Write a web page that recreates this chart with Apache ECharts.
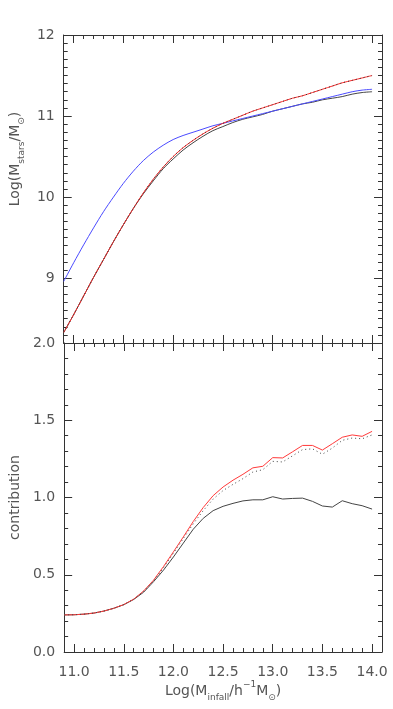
<!DOCTYPE html>
<html>
<head>
<meta charset="utf-8">
<script src="https://cdn.jsdelivr.net/npm/echarts@6/dist/echarts.min.js"></script>
<style>
  html, body { margin: 0; padding: 0; background: #fff; }
  #chart { width: 393px; height: 709px; }
</style>
</head>
<body>
<div id="chart"></div>
<script>
// x values: Log(M_infall / h^-1 M_sun), 0.1 dex steps
var xs = [10.9, 11.0, 11.1, 11.2, 11.3, 11.4, 11.5, 11.6, 11.7, 11.8, 11.9,
  12.0, 12.1, 12.2, 12.3, 12.4, 12.5, 12.6, 12.7, 12.8, 12.9,
  13.0, 13.1, 13.2, 13.3, 13.4, 13.5, 13.6, 13.7, 13.8, 13.9, 14.0];

// top panel: Log(M_stars / M_sun)
var topRed = [8.33, 8.55, 8.78, 9.01, 9.23, 9.45, 9.66, 9.86, 10.05, 10.22, 10.37,
  10.50, 10.61, 10.70, 10.78, 10.85, 10.91, 10.96, 11.01, 11.06, 11.10,
  11.14, 11.18, 11.22, 11.25, 11.29, 11.33, 11.37, 11.41, 11.44, 11.47, 11.50];
var topDotted = topRed.slice();
var topBlack = [8.33, 8.55, 8.78, 9.01, 9.23, 9.45, 9.66, 9.86, 10.04, 10.20, 10.35,
  10.47, 10.58, 10.67, 10.75, 10.82, 10.87, 10.92, 10.96, 10.99, 11.02,
  11.06, 11.09, 11.12, 11.15, 11.17, 11.20, 11.22, 11.24, 11.27, 11.29, 11.30];
var topBlue = [8.96, 9.19, 9.41, 9.62, 9.82, 10.00, 10.17, 10.32, 10.45, 10.555, 10.64,
  10.71, 10.76, 10.80, 10.84, 10.88, 10.91, 10.94, 10.97, 11.00, 11.03,
  11.06, 11.09, 11.12, 11.15, 11.18, 11.21, 11.24, 11.27, 11.30, 11.32, 11.33];

// bottom panel: contribution
var botRed = [0.240, 0.241, 0.245, 0.252, 0.265, 0.283, 0.307, 0.342, 0.395, 0.465, 0.553,
  0.648, 0.745, 0.845, 0.935, 1.012, 1.068, 1.112, 1.150, 1.192, 1.202,
  1.258, 1.256, 1.296, 1.337, 1.337, 1.307, 1.348, 1.390, 1.405, 1.396, 1.428];
var botDotted = [0.240, 0.241, 0.245, 0.252, 0.265, 0.283, 0.307, 0.342, 0.393, 0.460, 0.545,
  0.640, 0.735, 0.830, 0.915, 0.990, 1.045, 1.085, 1.122, 1.165, 1.180,
  1.234, 1.230, 1.270, 1.310, 1.315, 1.280, 1.320, 1.370, 1.385, 1.380, 1.405];
var botBlack = [0.240, 0.241, 0.245, 0.252, 0.265, 0.283, 0.306, 0.340, 0.387, 0.455, 0.530,
  0.615, 0.705, 0.795, 0.865, 0.915, 0.943, 0.962, 0.978, 0.985, 0.985,
  1.005, 0.990, 0.994, 0.996, 0.975, 0.945, 0.938, 0.979, 0.960, 0.947, 0.925];

// tick labels
var xMajor = [11.0, 11.5, 12.0, 12.5, 13.0, 13.5, 14.0];
var yTopMajor = [9, 10, 11, 12];
var yBotMajor = [0.0, 0.5, 1.0, 1.5, 2.0];

function steps(a, b) {
  var out = [];
  for (var i = a; i <= b; i++) out.push(Math.round(i) / 10);
  return out;
}
var xMinor = steps(109, 141);
var yTopMinor = steps(82, 120);
var yBotMinor = steps(0, 20);

function pairs(ys) {
  return xs.map(function (x, i) { return [x, ys[i]]; });
}

var txt = { color: '#555', fontFamily: 'DejaVu Sans', fontSize: 14 };
var rich = {
  a: { fontSize: 14, fontFamily: 'DejaVu Sans', color: '#555', lineHeight: 22, verticalAlign: 'middle' },
  s: { fontSize: 9, fontFamily: 'DejaVu Sans', color: '#555', lineHeight: 9, verticalAlign: 'bottom' },
  p: { fontSize: 9, fontFamily: 'DejaVu Sans', color: '#555', lineHeight: 9, verticalAlign: 'top' }
};

// one side of a box = a major axis (line, long ticks, labels) + a minor axis (short ticks)
function side(gridIndex, position, min, max, major, minor, fmt, extra, margin) {
  var base = {
    type: 'value', gridIndex: gridIndex, position: position, min: min, max: max,
    splitLine: { show: false }
  };
  var maj = Object.assign({}, base, {
    axisLine: { show: true, onZero: false, lineStyle: { color: '#333', width: 1 } },
    axisTick: { show: true, inside: true, length: 8, customValues: major, lineStyle: { color: '#333' } },
    axisLabel: fmt ? Object.assign({ show: true, customValues: major, formatter: fmt, margin: margin || 9 }, txt) : { show: false }
  }, extra || {});
  var mnr = Object.assign({}, base, {
    axisLine: { show: false, onZero: false },
    axisTick: { show: true, inside: true, length: 4, customValues: minor, lineStyle: { color: '#333' } },
    axisLabel: { show: false }
  });
  return [maj, mnr];
}

var fmt1 = function (v) { return v.toFixed(1); };
var fmt0 = function (v) { return v.toFixed(0); };

var xAxes = [].concat(
  side(0, 'bottom', 10.9, 14.1, xMajor, xMinor, null),
  side(0, 'top', 10.9, 14.1, xMajor, xMinor, null),
  side(1, 'bottom', 10.9, 14.1, xMajor, xMinor, fmt1, {
    name: '{a|Log(M}{s|infall}{a|/h}{p|−1}{a|M}{s|⊙}{a|)}',
    nameLocation: 'middle', nameGap: 24,
    nameTextStyle: { rich: rich }
  }, 13),
  side(1, 'top', 10.9, 14.1, xMajor, xMinor, null)
);
var yAxes = [].concat(
  side(0, 'left', 8.2, 12, yTopMajor, yTopMinor, fmt0, {
    name: '{a|Log(M}{s|stars}{a|/M}{s|⊙}{a|)}',
    nameLocation: 'middle', nameGap: 30,
    nameTextStyle: { rich: rich, padding: [0, 0, 0, 60] }
  }, 9),
  side(0, 'right', 8.2, 12, yTopMajor, yTopMinor, null),
  side(1, 'left', 0, 2, yBotMajor, yBotMinor, fmt1, {
    name: 'contribution',
    nameLocation: 'middle', nameGap: 37,
    nameTextStyle: txt
  }, 9),
  side(1, 'right', 0, 2, yBotMajor, yBotMinor, null)
);

function line(g, ys, color, type, smooth) {
  return {
    type: 'line', xAxisIndex: g * 4, yAxisIndex: g * 4, data: pairs(ys),
    showSymbol: false, symbol: 'none', silent: true,
    smooth: smooth ? 0.3 : false,
    lineStyle: { color: color, width: 1, type: type || 'solid' }
  };
}

var myChart = echarts.init(document.getElementById('chart'));
var option = {
  animation: false,
  backgroundColor: '#fff',
  grid: [
    { left: 55, right: 11, top: 35, height: 308 },
    { left: 55, right: 11, top: 343, height: 309 }
  ],
  xAxis: xAxes,
  yAxis: yAxes,
  series: [
    line(0, topBlack, '#444', null, true),
    line(0, topBlue, '#4a4aff', null, true),
    line(0, topRed, '#ff2a2a', null, true),
    line(0, topDotted, '#333', [1, 3], true),
    line(1, botBlack, '#444'),
    line(1, botRed, '#ff3a3a'),
    line(1, botDotted, '#444', [1, 3])
  ]
};
myChart.setOption(option);
</script>
</body>
</html>
